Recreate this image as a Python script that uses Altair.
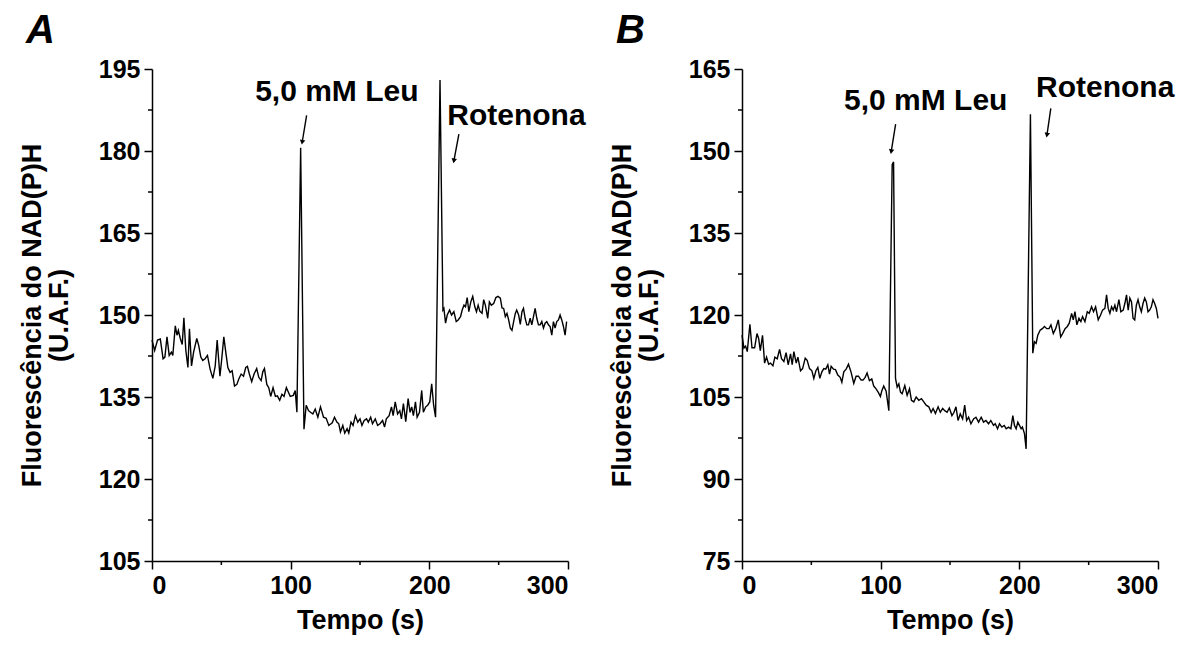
import altair as alt
import pandas as pd

FONT = "Liberation Sans"

# ---------------- Panel A data (time s, fluorescence) ----------------
a_t = [0, 1.9, 4, 6, 8, 9.3, 10.8, 12.4, 14, 15, 16.8, 18, 19, 20.4, 21.8, 23, 24.4, 25.9, 27, 28.5,
       30, 32.3, 33.7, 35.2, 36.6, 38.3, 40, 41.9, 43.9, 45.6, 47, 49, 50.3, 51.8, 53.2, 54.7, 56.3, 57.8,
       59.5, 61.2, 62.6, 64.3, 66, 67.6, 68.8, 70.2, 71.9, 73.6, 75.5, 77, 78.7, 79.9, 81.1, 82.8, 84.2,
       85.6, 87.3, 89, 90.4, 92.1, 93.7, 95.2, 96.9, 98.3, 99.7, 101.9, 103.3, 104.5, 107.2, 109.6,
       111.2, 112.9, 114.3, 116, 117.7, 119.6, 121.5, 123.7, 125.6, 127.5, 130, 131.6, 133.3, 134.7,
       135.9, 137.6, 139, 140.7, 141.9, 143.5, 145, 146.7, 148.4, 150, 151.4, 153, 154.7, 156, 157.7,
       159, 161, 162.7, 164.4, 166.3, 167.7, 169, 171, 172.7, 173.9, 175.4, 177.1, 178.7, 179.9, 181.3,
       183, 184.7, 186.1, 187.3, 188.5, 190, 191.2, 192.9, 194.5, 195.7, 197.4, 198.8, 200.3, 201.7,
       203.1, 204.5, 207.7, 209.8, 210.5, 211.7, 212.9, 214.6, 216, 217.7, 219.4, 220.8, 222.5, 223.7,
       225, 226.1, 227.3, 228.5, 229.9, 231.3, 232.8, 234, 235.2, 236.4, 238, 239.2, 240.4, 242.1, 243.3,
       244.7, 246.4, 248, 249.5, 251.2, 252.4, 253.6, 254.8, 256, 257.2, 258.4, 259.6, 260.8, 262, 263,
       264.4, 265.6, 266.8, 267.9, 269.1, 270.3, 271.5, 272.7, 273.9, 275.1, 276.3, 277.5, 278.7, 279.9,
       281.1, 282.3, 283.5, 284.7, 285.9, 287.1, 288.3, 289.5, 290.7, 291.9, 293.1, 294.3, 295.5, 296.7,
       297.9, 299]
a_v = [145.4, 143.5, 145.4, 145.6, 142, 142.3, 146, 142.6, 143.2, 142.6, 148, 146.3, 147.2, 145.7, 144.6,
       149.5, 143.5, 140.4, 147.5, 140.7, 143.2, 145.7, 144.4, 142.3, 141.7, 142, 142.6, 140.1, 138.4,
       140.7, 145.4, 138.8, 142, 146, 143.2, 140.4, 139.5, 139.8, 137, 137.3, 138.3, 139.2, 138.8, 140.4,
       140.6, 139.2, 137.8, 139.2, 140.2, 138.6, 138, 139.6, 140.2, 137.3, 136.7, 135.1, 136.7, 135.1,
       135.2, 134.4, 135.5, 135.1, 136.7, 135.9, 135.1, 135.3, 136.2, 132.2, 180.6, 129.1,
       133.5, 132.5, 132.2, 131.9, 132.8, 131.3, 133.2, 131.3, 131.1, 129.8, 130.3, 131.3, 130.4, 130.1,
       128.6, 129.8, 128.4, 129.2, 128.4, 130.4, 129.8, 131.6, 130.4, 131, 129.8, 130.7, 131, 130.4, 131.3,
       130.1, 131, 129.8, 130.1, 130.7, 129.5, 131, 131.6, 133.2, 131.6, 134.1, 131.9, 132.5, 131, 133.8,
       130.5, 134.7, 132.2, 133.2, 131.6, 134.1, 131.3, 132.2, 136.2, 132.2, 133.2, 133.5, 134.1, 137.4,
       133.5, 131.3, 193, 150.9, 151.2, 148.5, 150, 150.9, 150, 150.6, 148.8, 149.1, 149.7,
       150.9, 151.8, 151.5, 153.2, 150.6, 152.4, 153.4, 151.5, 150.6, 151.8, 150.7, 150.3, 152.8, 151.8,
       149.4, 152.4, 151.8, 152.1, 153.2, 153.4, 153.1, 151.3, 151.2, 149.7, 150.3, 149.1, 147.6, 147.2,
       148.8, 150.3, 150.9, 150, 148.3, 150.6, 151.2, 149.4, 148.2, 148.2, 149.4, 148.2, 149.7, 151.2,
       149.4, 148.2, 148.2, 148.8, 147.6, 148.5, 148.8, 148.2, 147.9, 146.3, 148.8, 147.6, 148.8, 149.1,
       150, 149.1, 147.9, 146.3, 148.8]

# ---------------- Panel B data ----------------
b_t = [0, 1.4, 2.6, 3.8, 5.7, 7.2, 9.1, 10.8, 12, 13.2, 14.8, 16.3, 17.7, 19.2, 20.6, 22.3, 23.7, 25.4,
       27.1, 28.5, 30.2, 31.8, 33.3, 35, 36.2, 37.4, 39.1, 40.3, 42.2, 43.7, 45.6, 47, 48.7, 50.4, 51.8,
       53.3, 54.7, 56.1, 57.6, 59, 60.4, 61.9, 63.1, 64.3, 66, 67.4, 69.1, 70.8, 72, 73.4, 75.1, 76.8,
       78.7, 80.6, 82.3, 84, 85.9, 87.3, 88.8, 90.2, 91.9, 93.6, 95, 96.7, 98.4, 99.8, 100.8, 102.2,
       103.9, 105.9, 108.3, 109.3, 110.7, 111.9, 113.1, 114.3, 115.5, 117.4, 119.1, 120.8, 122.2,
       123.9, 125.6, 127.5, 129.4, 131.1, 132.8, 134.7, 136.4, 137.8, 139.5, 141.4, 143, 144.7, 146.2,
       147.9, 149.5, 151.4, 152.9, 154.3, 155.8, 157.4, 159.1, 160.6, 162, 163.4, 165.1, 167, 168.7,
       170.6, 172.5, 174.2, 175.9, 177.8, 179.4, 181.4, 182.6, 184.3, 185.7, 187.4, 189.1, 190.5, 192.2,
       193.9, 195.3, 196.5, 197.7, 198.9, 200.1, 201.3, 202.2, 203.7, 204.9, 208, 209.7, 210.9, 212.1,
       213.3, 215, 216.6, 218.1, 219.8, 221.4, 222.8, 224.5, 226.2, 228.1, 229.8, 231.2, 233, 234.6, 236,
       237.7, 238.9, 240.1, 241.5, 243, 244.4, 245.6, 247.3, 249, 250.4, 252.1, 253.5, 255, 256.9, 258.6,
       260, 261.7, 262.9, 264.1, 265.3, 266.5, 267.7, 268.9, 270.1, 271.8, 273.2, 274.9, 276.1, 277.3,
       278.5, 279.7, 280.9, 282, 283.2, 284.4, 285.6, 286.8, 288, 289.2, 290.4, 291.6, 292.8, 294, 295.2,
       296.4, 297.6, 298.8, 300]
b_v = [116.3, 113.95, 114.3, 113.3, 118.3, 114, 114, 116.6, 115.7, 113.5, 116.3, 111.2, 112.3, 111, 111.2,
       110.7, 112.3, 112, 113.7, 112, 111.5, 113.1, 110.9, 112.9, 110.9, 113.3, 111.2, 112.3, 109.8, 110.2,
       112.1, 111.7, 110.2, 109.8, 108.4, 109.8, 110.4, 108.4, 109.6, 110.2, 110.1, 110.9, 109.2, 110.6,
       110.1, 110, 109, 108.6, 107.7, 109.6, 110.1, 111, 109.5, 107.5, 108.8, 108.8, 108.1, 108.1, 108.6,
       109.4, 108, 108.3, 107, 106.5, 105.8, 105.1, 106.1, 107, 106.1, 102.5, 147.5, 148, 108.4, 106.8,
       107.4, 105.9, 105.6, 107.1, 105.3, 106.5, 104.4, 104.1, 105, 104.4, 104.7, 104.1, 103.5, 103.2,
       102.2, 102.9, 102, 103.2, 102.2, 102.9, 102.5, 102.2, 103, 101.6, 102.2, 103.2, 100.7, 101.9, 101,
       103.5, 100.7, 101.3, 100.1, 101, 101.3, 100.4, 101.3, 100.4, 100.7, 100.1, 100.7, 99.8, 100.1, 99.2,
       100.1, 99.5, 99.8, 99.2, 99.5, 99.2, 101.6, 99.8, 99.2, 100.4, 99.8, 99.2, 99.5, 98.3, 95.5, 156.7,
       113, 115.1, 114.8, 116.3, 117.2, 117.5, 117.9, 117.5, 117.5, 118.2, 116.6, 117.5, 119.1, 116, 116.6,
       117.5, 117.9, 118.5, 120.3, 119.1, 120.6, 118.2, 119.4, 118.8, 119.7, 118.8, 120.6, 120.3, 121.5,
       120.6, 121.5, 119.1, 120, 120.9, 121.2, 123.7, 121.2, 120.3, 121.5, 120.9, 121.8, 120.6, 122.8,
       120.6, 120.9, 122.1, 123.7, 120.9, 123.1, 122.4, 119.4, 119.1, 121.8, 122.8, 121.5, 120.6, 122.1,
       123.1, 122.4, 120.6, 120.9, 121.5, 122.8, 122.1, 121.2, 119.4]

# ---------------- axes ----------------
x_major = [0, 100, 200, 300]
x_minor = [50, 150, 250]
a_y_major = [105, 120, 135, 150, 165, 180, 195]
a_y_minor = [112.5, 127.5, 142.5, 157.5, 172.5, 187.5]
b_y_major = [75, 90, 105, 120, 135, 150, 165]
b_y_minor = [82.5, 97.5, 112.5, 127.5, 142.5, 157.5]

# ---------------- annotations (data coordinates) ----------------
a_lab = ["5,0 mM Leu", "Rotenona"]
a_lab_t = [133.3, 262.8]
a_lab_v = [190.8, 186.4]
a_arr_t0 = [111.5, 221.3]
a_arr_v0 = [186.5, 183.1]
a_arr_t1 = [108.3, 217.7]
a_arr_v1 = [181.6, 178.2]

b_lab = ["5,0 mM Leu", "Rotenona"]
b_lab_t = [132.5, 261.9]
b_lab_v = [159.2, 161.6]
b_arr_t0 = [110.8, 222.7]
b_arr_v0 = [154.9, 157.8]
b_arr_t1 = [107.6, 219.9]
b_arr_v1 = [149.9, 152.9]

W, H = 416, 492


def panel(t, v, ydom, ymaj, ymin, letter, lab, lab_t, lab_v, t0, v0, t1, v1):
    xs = alt.Scale(domain=[0, 300], nice=False)
    ys = alt.Scale(domain=ydom, nice=False, zero=False)
    df = pd.DataFrame({"t": t, "v": v})
    line = alt.Chart(df).mark_line(color="black", strokeWidth=1.4).encode(
        x=alt.X("t:Q", scale=xs, axis=alt.Axis(values=x_major, title="Tempo (s)", titlePadding=9)),
        y=alt.Y("v:Q", scale=ys, axis=alt.Axis(values=ymaj,
                                                 title=["Fluorescência do NAD(P)H", "(U.A.F.)"],
                                                 titlePadding=25)),
    )
    ymin_df = pd.DataFrame({"v": ymin})
    yminor = alt.Chart(ymin_df).mark_rule(color="black", strokeWidth=1.5).encode(
        y=alt.Y("v:Q", scale=ys), x=alt.value(-4), x2=alt.value(0))
    xmin_df = pd.DataFrame({"t": x_minor})
    xminor = alt.Chart(xmin_df).mark_rule(color="black", strokeWidth=1.5).encode(
        x=alt.X("t:Q", scale=xs), y=alt.value(H), y2=alt.value(H + 4))
    ann = pd.DataFrame({"lab": lab, "t": lab_t, "v": lab_v, "t0": t0, "v0": v0, "t1": t1, "v1": v1})
    text = alt.Chart(ann).mark_text(font=FONT, fontSize=30, fontWeight="bold", color="black",
                                    align="center", baseline="middle").encode(
        x=alt.X("t:Q", scale=xs), y=alt.Y("v:Q", scale=ys), text="lab:N")
    shaft = alt.Chart(ann).mark_rule(color="black", strokeWidth=1.4).encode(
        x=alt.X("t0:Q", scale=xs), y=alt.Y("v0:Q", scale=ys), x2="t1:Q", y2="v1:Q")
    head = alt.Chart(ann).mark_point(shape="triangle-down", filled=True, color="black", size=30,
                                     opacity=1, angle=10).encode(
        x=alt.X("t1:Q", scale=xs), y=alt.Y("v1:Q", scale=ys))
    let = alt.Chart(pd.DataFrame({"L": [letter]})).mark_text(
        font=FONT, fontSize=40, fontWeight="bold", fontStyle="italic", color="black",
        align="left", baseline="alphabetic").encode(
        x=alt.value(-126), y=alt.value(-26), text="L:N")
    return alt.layer(line, yminor, xminor, shaft, head, text, let).properties(width=W, height=H)


pa = panel(a_t, a_v, [105, 195], a_y_major, a_y_minor, "A",
           a_lab, a_lab_t, a_lab_v, a_arr_t0, a_arr_v0, a_arr_t1, a_arr_v1)
pb = panel(b_t, b_v, [75, 165], b_y_major, b_y_minor, "B",
           b_lab, b_lab_t, b_lab_v, b_arr_t0, b_arr_v0, b_arr_t1, b_arr_v1)

chart = alt.hconcat(pa, pb, spacing=22).configure_view(stroke=None).configure_axis(
    grid=False,
    domainColor="black", domainWidth=1.5,
    tickColor="black", tickWidth=1.5, tickSize=8,
    labelFont=FONT, labelFontSize=25, labelFontWeight="bold", labelColor="black", labelPadding=4,
    titleFont=FONT, titleFontSize=27, titleFontWeight="bold", titleColor="black", titleLineHeight=27,
).properties(background="white", padding={"left": 10, "top": 3, "right": 5, "bottom": 5})

chart.save("out.html", embed_options={"renderer": "svg", "actions": False})
